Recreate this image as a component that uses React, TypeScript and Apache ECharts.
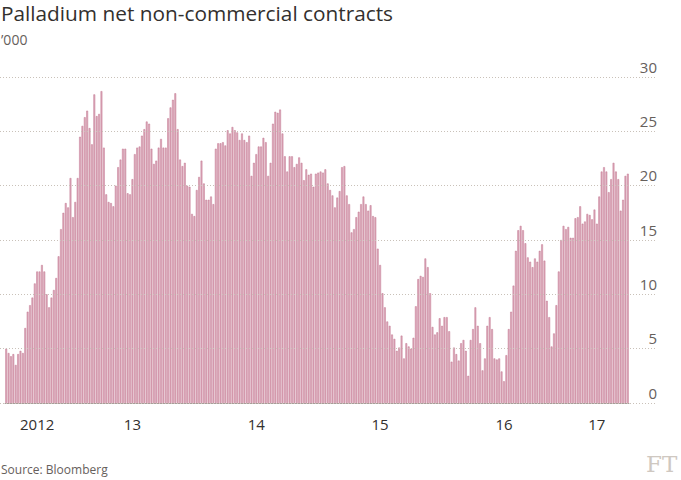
import React, { useEffect, useRef } from "react";
import * as echarts from "echarts";

// Net non-commercial palladium contracts ('000), weekly
const contracts2012 = [5.0, 4.6, 4.3, 4.5, 3.5, 4.5, 4.8, 4.6, 6.9, 8.4, 9.0, 9.7, 11.0, 12.1, 12.1, 12.7, 12.1, 10.0, 8.8, 9.7, 10.4, 11.5, 13.5, 16.0, 17.5, 18.4, 18.0];
const contracts2013 = [20.7, 17.1, 18.5, 20.7, 24.5, 25.5, 26.3, 26.9, 25.3, 23.8, 28.4, 26.4, 26.6, 28.7,
  23.5, 19.2, 18.5, 18.4, 18.1, 20.0, 21.7, 22.4, 23.4, 23.4, 19.3, 19.2, 20.6, 22.9, 23.5, 23.6, 24.6, 25.2, 25.9, 25.7, 23.4, 22.0,
  22.3, 23.5, 24.3, 23.5, 23.5, 26.2, 27.2, 27.9, 28.5, 25.2, 22.4, 21.8, 22.1, 20.0, 19.9, 17.4];
const contracts2014 = [17.2, 19.6, 20.8, 22.3, 20.2, 18.7, 18.7,
  19.0, 18.3, 23.4, 23.9, 23.9, 24.0, 23.7, 25.1, 24.8, 25.4, 25.1, 24.9, 24.2, 24.8, 24.2, 24.0, 24.6, 20.9, 22.1, 22.9, 23.6, 23.6,
  24.4, 24.0, 20.9, 22.1, 25.7, 26.8, 26.7, 27.0, 24.8, 22.7, 21.3, 22.7, 22.7, 21.7, 22.0, 22.6, 22.1, 20.5, 21.5, 21.0, 21.1, 19.9, 21.1];
const contracts2015 = [21.2, 21.3, 21.2, 21.5, 20.2, 19.6, 19.1, 18.0, 18.9, 19.5, 21.7, 21.8, 19.1, 18.3, 15.7, 16.0, 17.1, 17.6, 18.3, 19.0, 18.3, 17.7, 18.2, 17.2,
  17.1, 14.2, 12.7, 10.1, 8.8, 7.5, 7.1, 6.3, 5.9, 4.8, 5.1, 6.2, 4.1, 5.5, 5.2, 5.0, 6.0, 8.9, 11.4, 11.7, 11.6, 13.3,
  12.5, 10.1, 7.0, 6.3, 6.5, 7.8];
const contracts2016 = [7.1, 7.9, 7.9, 6.6, 3.8, 5.1, 4.5, 3.9, 5.5, 5.8, 4.8, 2.5, 5.8, 6.8, 8.8, 7.1,
  5.5, 3.0, 4.1, 7.1, 7.9, 6.8, 4.1, 4.0, 4.1, 2.9, 2.0, 4.4, 6.8, 8.4, 10.8, 14.0, 15.9, 16.3, 15.9, 14.7, 13.4, 13.0,
  12.5, 13.3, 13.0, 14.0, 14.6, 13.1, 9.4, 7.9, 5.2, 6.4, 9.0, 12.1, 15.0, 16.3, 16.0];
const contracts2017 = [16.2, 15.2, 15.2, 17.0, 17.1, 18.1, 16.5, 16.7,
  17.4, 17.3, 16.9, 17.8, 16.5, 19.0, 21.3, 21.7, 21.3, 19.4, 20.6, 22.1, 21.3, 20.6, 17.7, 18.7, 20.9, 21.1];

const yearLabels = ["2012", "13", "14", "15", "16", "17"];
const firstWeek = "2012-06-26";

export default function App() {
  const ref = useRef<HTMLDivElement>(null);

  useEffect(() => {
    if (!ref.current) return;
    const values = [
      ...contracts2012,
      ...contracts2013,
      ...contracts2014,
      ...contracts2015,
      ...contracts2016,
      ...contracts2017,
    ];
    const weeks: string[] = [];
    const start = new Date(firstWeek + "T00:00:00Z").getTime();
    for (let i = 0; i < values.length; i++) {
      weeks.push(new Date(start + i * 7 * 86400000).toISOString().slice(0, 10));
    }
    const yearOf = (s: string) => s.slice(0, 4);
    const tickIdx = new Set<number>();
    const yearRanges: { y: string; a: number; b: number }[] = [];
    weeks.forEach((w, i) => {
      if (i === 0 || yearOf(w) !== yearOf(weeks[i - 1])) {
        tickIdx.add(i);
        yearRanges.push({ y: yearOf(w), a: i, b: i });
      } else {
        yearRanges[yearRanges.length - 1].b = i;
      }
    });
    const labelAt = new Map<number, string>();
    yearRanges.forEach((r, k) => {
      labelAt.set(Math.floor((r.a + r.b) / 2), yearLabels[k]);
    });

    const chart = echarts.init(ref.current, null, { renderer: "svg" });
    const font = "Open Sans";
    chart.setOption({
      animation: false,
      backgroundColor: "#ffffff",
      title: {
        text: "Palladium net non-commercial contracts",
        subtext: "\u2019000",
        left: 0,
        top: 2,
        itemGap: 9,
        padding: [0, 0, 0, 1],
        textStyle: { fontFamily: font, fontSize: 20.8, fontWeight: "normal", color: "#33302e" },
        subtextStyle: { fontFamily: font, fontSize: 14, color: "#66605c" },
      },
      grid: [
        { left: 5, right: 52, top: 77, bottom: 77 },
        { left: 0, right: 24, top: 77, bottom: 77 },
      ],
      xAxis: [
        {
          type: "category",
          gridIndex: 0,
          data: weeks,
          boundaryGap: true,
          axisLine: { lineStyle: { color: "#a7a09b", width: 1 } },
          axisTick: {
            interval: (i: number) => tickIdx.has(i),
            length: 7,
            lineStyle: { color: "#a7a09b" },
          },
          axisLabel: {
            interval: (i: number) => labelAt.has(i),
            formatter: (_v: string, i: number) => labelAt.get(i) ?? "",
            color: "#33302e",
            fontFamily: font,
            fontSize: 15,
            margin: 13,
          },
          splitLine: { show: false },
        },
        { type: "value", gridIndex: 1, min: 0, max: 1, show: false },
      ],
      yAxis: [
        { type: "value", gridIndex: 0, min: 0, max: 30, interval: 5, show: false },
        {
          type: "value",
          gridIndex: 1,
          min: 0,
          max: 30,
          interval: 5,
          position: "right",
          z: 5,
          axisLine: { show: false },
          axisTick: { show: false },
          axisLabel: {
            inside: true,
            margin: 0,
            align: "right",
            verticalAlign: "bottom",
            padding: [0, 0, 3, 0],
            color: "#66605c",
            fontFamily: font,
            fontSize: 15,
          },
          splitLine: { lineStyle: { type: [1, 2], color: "#c9c1b9", width: 1 } },
        },
      ],
      series: [
        {
          type: "bar",
          xAxisIndex: 0,
          yAxisIndex: 0,
          data: values,
          barCategoryGap: "25%",
          itemStyle: { color: "#dca9ba", borderColor: "#c27791", borderWidth: 0.5 },
        },
      ],
      graphic: [
        {
          type: "text",
          left: 1,
          top: 463,
          style: { text: "Source: Bloomberg", fontFamily: font, fontSize: 12, fill: "#66605c" },
        },
        {
          type: "text",
          left: 646,
          top: 452,
          style: { text: "FT", fontFamily: "DejaVu Serif", fontSize: 23, fill: "#cfc8c1" },
        },
      ],
    });
    return () => chart.dispose();
  }, []);

  return (
    <div
      ref={ref}
      style={{ position: "fixed", left: 0, top: 0, width: 681, height: 480 }}
    />
  );
}
